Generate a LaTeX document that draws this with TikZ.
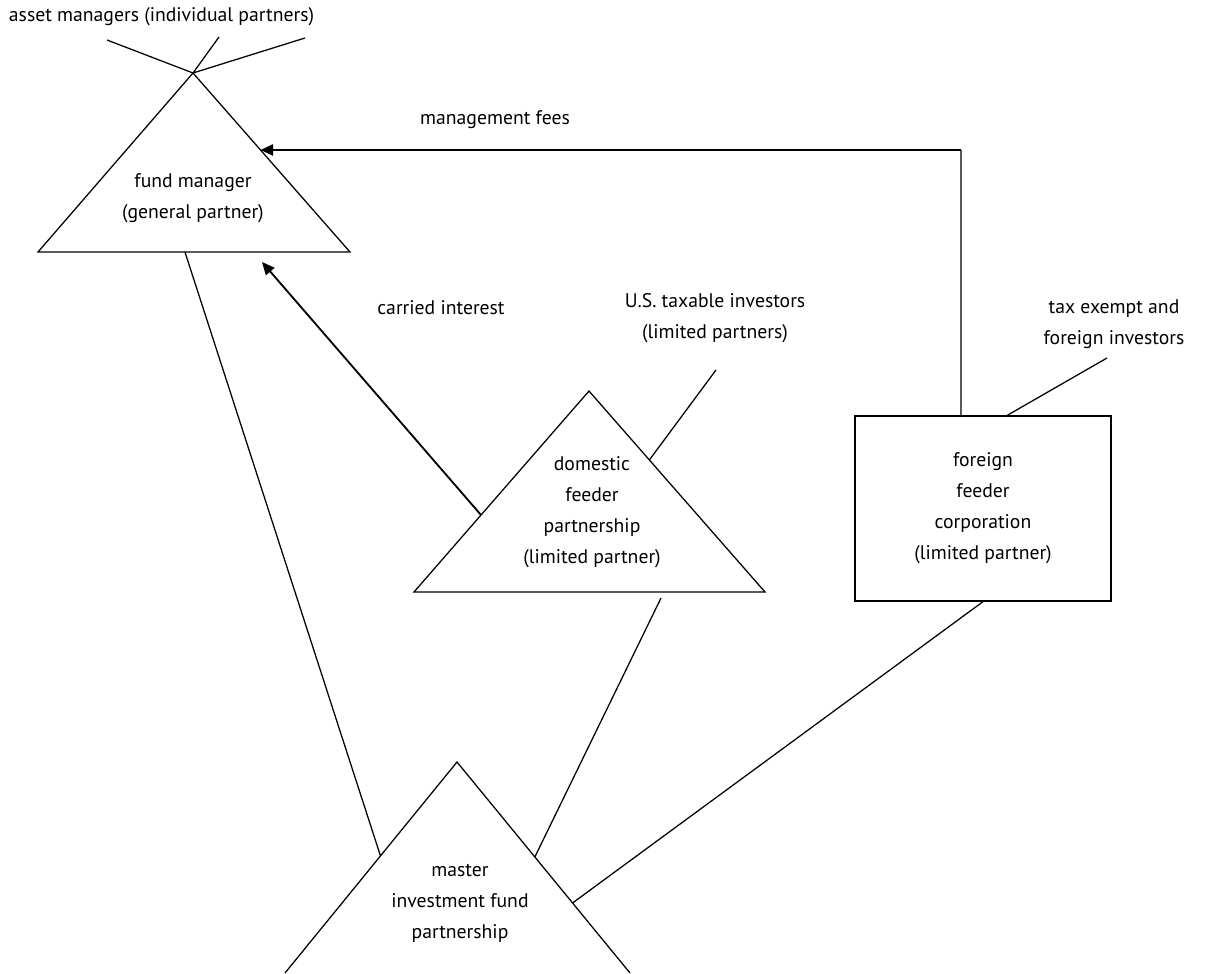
\documentclass[tikz,border=0pt]{standalone}
\usepackage{fontspec}
\setmainfont{PT Sans}
\usetikzlibrary{arrows.meta,calc}
\tikzset{
  lbl/.style={align=center,font=\fontsize{14}{22}\selectfont},
  ln/.style={line width=0.9pt},
  flow/.style={line width=1.3pt,-{Triangle[length=9pt,width=8pt]}}
}
\begin{document}
\begin{tikzpicture}
  \useasboundingbox (0,0) rectangle (30.275,-24.325);
  % fund manager
  \coordinate (fa) at (4.825,-1.825);
  \coordinate (fl) at (0.95,-6.3);
  \coordinate (fr) at (8.75,-6.3);
  \draw[ln] (fa) -- (fl) -- (fr) -- cycle;
  \node[lbl] (fm) at (4.825,-4.95) {fund manager\\(general partner)};
  \node[lbl,anchor=west] (am) at (0.1,-0.42) {asset managers (individual partners)};
  \coordinate (a1) at (2.675,-1.0);
  \coordinate (a2) at (5.475,-0.925);
  \coordinate (a3) at (7.625,-0.95);
  \draw[ln] (a1) -- (fa) (a2) -- (fa) (a3) -- (fa);

  % domestic feeder
  \coordinate (da) at (14.725,-9.775);
  \coordinate (dl) at (10.35,-14.8);
  \coordinate (dr) at (19.125,-14.8);
  \draw[ln] (da) -- (dl) -- (dr) -- cycle;
  \node[lbl] (df) at (14.8,-12.8) {domestic\\feeder\\partnership\\(limited partner)};
  \node[lbl] (us) at (17.875,-7.95) {U.S. taxable investors\\(limited partners)};
  \coordinate (u1) at (17.9,-9.25);
  \draw[ln] ($(da)!0.343!(dr)$) -- (u1);

  % foreign feeder
  \node[draw,ln,lbl,minimum width=6.4cm,minimum height=4.625cm] (ff)
    at (24.575,-12.7125) {foreign\\feeder\\corporation\\(limited partner)};
  \node[lbl] (te) at (27.85,-8.1) {tax exempt and\\foreign investors};
  \coordinate (t1) at (27.675,-8.95);
  \draw[ln] ($(ff.north west)!0.594!(ff.north east)$) -- (t1);

  % master fund
  \coordinate (ma) at (11.425,-19.05);
  \coordinate (ml) at (7.125,-24.325);
  \coordinate (mr) at (15.75,-24.325);
  \draw[ln] (ml) -- (ma) -- (mr);
  \node[lbl] (mf) at (11.5,-22.575) {master\\investment fund\\partnership};

  % flows
  \coordinate (corner) at (24.025,-3.75);
  \draw[ln] ($(ff.north west)!0.414!(ff.north east)$) -- (corner);
  \draw[flow] (corner) -- ($(fa)!0.43!(fr)$);
  \node[lbl] (mgt) at (12.375,-3.0) {management fees};
  \coordinate (ci) at (6.55,-6.55);
  \draw[flow] ($(da)!0.617!(dl)$) -- (ci);
  \node[lbl] (cil) at (11.025,-7.7) {carried interest};

  % links to master
  \draw[ln] ($(fl)!0.471!(fr)$) -- ($(ma)!0.445!(ml)$);
  \coordinate (d1) at (16.525,-14.95);
  \draw[ln] (d1) -- ($(ma)!0.45!(mr)$);
  \draw[ln] (ff.south) -- ($(ma)!0.668!(mr)$);
\end{tikzpicture}
\end{document}
